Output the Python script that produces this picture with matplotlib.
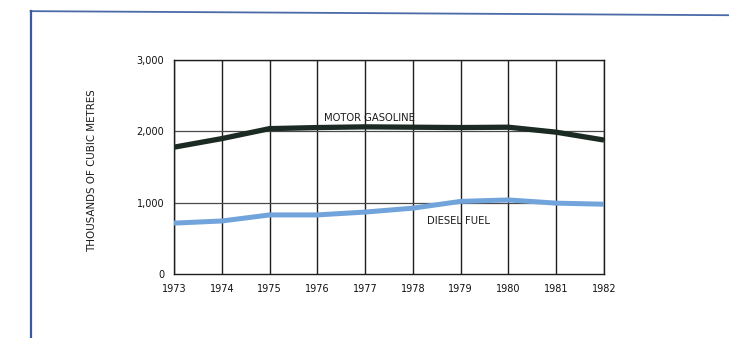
import numpy as np
import matplotlib
matplotlib.use("Agg")
from matplotlib import pyplot as plt
from matplotlib.lines import Line2D

years = [1973, 1974, 1975, 1976, 1977, 1978, 1979, 1980, 1981, 1982]
gasoline = [1780, 1900, 2040, 2055, 2065, 2060, 2055, 2060, 1990, 1880]
diesel = [715, 745, 830, 830, 870, 925, 1020, 1040, 995, 980]
yticks = [0, 1000, 2000, 3000]
ytick_labels = ["0", "1,000", "2,000", "3,000"]

fig = plt.figure(figsize=(7.29, 3.38), dpi=100)
ax = fig.add_axes([0.2387, 0.189, 0.5898, 0.633])

grid_col = "#1e1e1e"
for yr in years:
    ax.axvline(yr, color=grid_col, lw=1.0, zorder=1)
for v in yticks[1:]:
    ax.axhline(v, color="#4a4a4a", lw=0.9, zorder=1)

ax.plot(years, gasoline, color="#1b2a22", lw=3.8, solid_capstyle="butt", zorder=3)
ax.plot(years, diesel, color="#72a4dc", lw=3.6, solid_capstyle="butt", zorder=3)

ax.set_xlim(1973, 1982)
ax.set_ylim(0, 3000)
ax.set_xticks(years)
ax.set_xticklabels([str(y) for y in years], fontsize=7, color="#111111")
ax.set_yticks(yticks)
ax.set_yticklabels(ytick_labels, fontsize=7, color="#111111")
ax.tick_params(length=0, pad=7)
for s in ax.spines.values():
    s.set_color(grid_col)
    s.set_linewidth(1.0)

ax.text(1976.15, 2140, "MOTOR GASOLINE", fontsize=7.2, color="#1a1a1a", zorder=4)
ax.text(1978.3, 700, "DIESEL FUEL", fontsize=7.2, color="#1a1a1a", zorder=4)

fig.text(0.126, 0.494, "THOUSANDS OF CUBIC METRES", rotation=90, fontsize=7.4,
         color="#1a1a1a", ha="center", va="center")

# outer frame of the scanned page
fig.add_artist(Line2D([0.042, 1.0], [0.967, 0.955], transform=fig.transFigure,
                      color="#4a6aa8", lw=1.3))
fig.add_artist(Line2D([0.042, 0.042], [0.967, 0.0], transform=fig.transFigure,
                      color="#3a5aa0", lw=1.6))

fig.savefig("out.png", dpi=100)
